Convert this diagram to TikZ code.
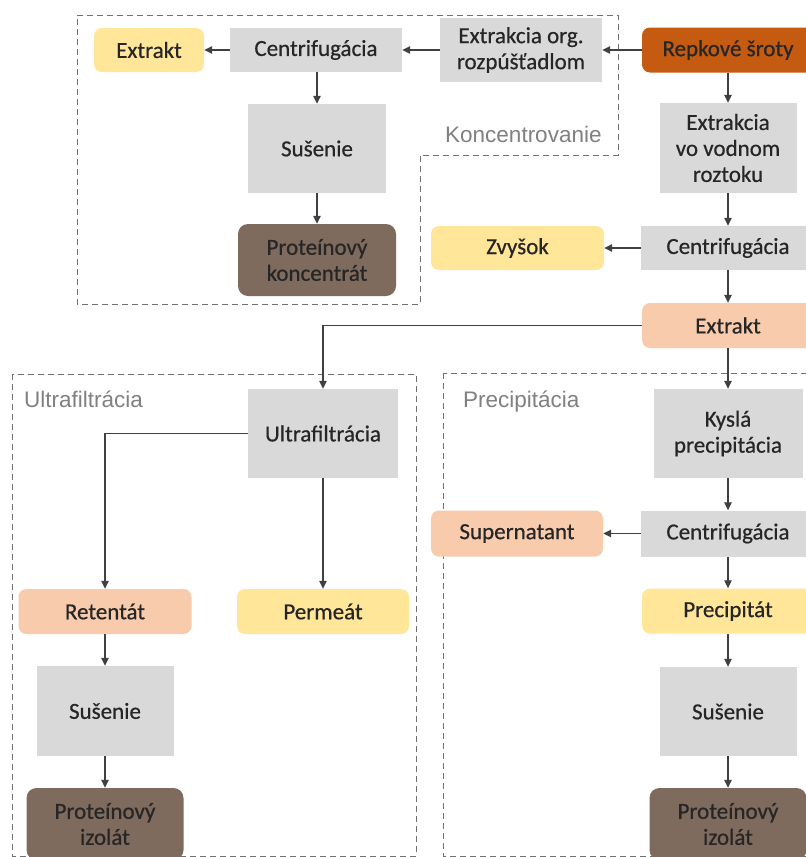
\documentclass[tikz,border=0pt]{standalone}
\usepackage{fontspec}
\setmainfont{Carlito}
\newfontfamily\boxfont{Carlito}[FakeBold=0.6]
\newfontfamily\lblfont{Liberation Sans}
\usetikzlibrary{arrows.meta}
\definecolor{cgray}{HTML}{D9D9D9}
\definecolor{cyel}{HTML}{FFE699}
\definecolor{cpeach}{HTML}{F8CBAD}
\definecolor{corange}{HTML}{C55A11}
\definecolor{cbrown}{HTML}{7F6A5E}
\definecolor{ctxt}{HTML}{262626}
\definecolor{cline}{HTML}{404040}
\definecolor{clbl}{HTML}{808080}
\definecolor{cdash}{HTML}{707070}
\tikzset{
  base/.style={inner sep=0pt, align=center, text=ctxt, font=\boxfont\fontsize{23}{26}\selectfont},
  gbox/.style={base, fill=cgray},
  ybox/.style={base, fill=cyel, rounded corners=8pt},
  pbox/.style={base, fill=cpeach, rounded corners=8pt},
  obox/.style={base, fill=corange, rounded corners=8pt},
  bbox/.style={base, fill=cbrown, rounded corners=10pt},
  arr/.style={draw=cline, line width=1.2pt, -{Triangle[length=8pt,width=7.5pt]}},
  dbox/.style={draw=cdash, line width=1pt, dash pattern=on 6pt off 4pt},
  lbl/.style={anchor=base west, inner sep=0pt, text=clbl, font=\lblfont\fontsize{22.5}{26}\selectfont}
}
\begin{document}
\begin{tikzpicture}[x=1pt, y=-1pt]
\useasboundingbox (0,0) rectangle (806,857);
\fill[white] (0,0) rectangle (806,857);
\clip (0,0) rectangle (806,857);
% dashed group frames
\draw[dbox] (77,15) -- (618,15) -- (618,155) -- (420,155) -- (420,304) -- (77,304) -- cycle;
\draw[dbox] (12,374) rectangle (416,856);
\draw[dbox] (443,373) rectangle (812,856);
\node[lbl] (lk) at (445,142) {Koncentrovanie};
\node[lbl] (lu) at (24,407) {Ultrafiltrácia};
\node[lbl] (lp) at (463,407) {Precipitácia};
% nodes
\node[ybox, minimum width=110pt, minimum height=44pt] (ext1) at (149,50) {Extrakt};
\node[gbox, minimum width=172pt, minimum height=44pt] (cen1) at (316,50) {Centrifugácia};
\node[gbox, minimum width=162pt, minimum height=64pt] (org) at (521,50) {Extrakcia org.\\rozpúšťadlom};
\node[obox, minimum width=172pt, minimum height=45pt] (rep) at (728,50) {Repkové šroty};
\node[gbox, minimum width=137pt, minimum height=90pt] (ext2) at (728,148) {Extrakcia\\vo vodnom\\roztoku};
\node[gbox, minimum width=138pt, minimum height=89pt] (sus1) at (317,148.5) {Sušenie};
\node[bbox, minimum width=158pt, minimum height=72pt] (konc) at (317,260) {Proteínový\\koncentrát};
\node[ybox, minimum width=173pt, minimum height=44pt] (zvy) at (517.5,248) {Zvyšok};
\node[gbox, minimum width=174pt, minimum height=44pt] (cen2) at (728,248) {Centrifugácia};
\node[pbox, minimum width=172pt, minimum height=45pt] (ext3) at (728,325.5) {Extrakt};
\node[gbox, minimum width=150pt, minimum height=89pt] (uf) at (323,433.5) {Ultrafiltrácia};
\node[gbox, minimum width=149pt, minimum height=89pt] (kys) at (728,433.5) {Kyslá\\precipitácia};
\node[pbox, minimum width=173pt, minimum height=45pt] (ret) at (105,611.5) {Retentát};
\node[ybox, minimum width=172pt, minimum height=45pt] (per) at (323,611.5) {Permeát};
\node[gbox, minimum width=174pt, minimum height=46pt] (cen3) at (728,533.5) {Centrifugácia};
\node[pbox, minimum width=172pt, minimum height=46pt] (sup) at (517,533.5) {Supernatant};
\node[ybox, minimum width=172pt, minimum height=45pt] (pre) at (728,611) {Precipitát};
\node[gbox, minimum width=137pt, minimum height=90pt] (sus2) at (105,711) {Sušenie};
\node[gbox, minimum width=137pt, minimum height=89pt] (sus3) at (728,711.5) {Sušenie};
\node[bbox, minimum width=157pt, minimum height=72pt] (izo1) at (105,824) {Proteínový\\izolát};
\node[bbox, minimum width=157pt, minimum height=72pt] (izo2) at (728,824) {Proteínový\\izolát};
% connectors
\draw[arr] (rep.west) -- (org.east);
\draw[arr] (org.west) -- (cen1.east);
\draw[arr] (cen1.west) -- (ext1.east);
\draw[arr] (cen1.south -| sus1.north) -- (sus1.north);
\draw[arr] (sus1.south) -- (konc.north);
\draw[arr] (rep.south) -- (ext2.north);
\draw[arr] (ext2.south) -- (cen2.north);
\draw[arr] (cen2.west) -- (zvy.east);
\draw[arr] (cen2.south) -- (ext3.north);
\draw[arr] (ext3.west) -| (uf.north);
\draw[arr] (ext3.south) -- (kys.north);
\draw[arr] (kys.south) -- (cen3.north);
\draw[arr] (cen3.west) -- (sup.east);
\draw[arr] (cen3.south) -- (pre.north);
\draw[arr] (pre.south) -- (sus3.north);
\draw[arr] (sus3.south) -- (izo2.north);
\draw[arr] (uf.west) -| (ret.north);
\draw[arr] (uf.south) -- (per.north);
\draw[arr] (ret.south) -- (sus2.north);
\draw[arr] (sus2.south) -- (izo1.north);
\end{tikzpicture}
\end{document}
